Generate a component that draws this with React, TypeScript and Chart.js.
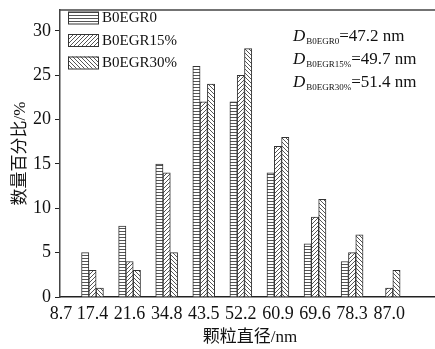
import { useEffect, useRef } from 'react';
import { Chart, registerables } from 'chart.js';

Chart.register(...registerables);

// ---- data ----
const xTickLabels = ['8.7', '17.4', '21.6', '34.8', '43.5', '52.2', '60.9', '69.6', '78.3', '87.0'];
const groupLabels = ['17.4', '21.6', '34.8', '43.5', '52.2', '60.9', '69.6', '78.3', '87.0'];
const seriesNames = ['B0EGR0', 'B0EGR15%', 'B0EGR30%'];
const b0egr0 = [5, 8, 15, 26, 22, 14, 6, 4, 0];
const b0egr15 = [3, 4, 14, 22, 25, 17, 9, 5, 1];
const b0egr30 = [1, 3, 5, 24, 28, 18, 11, 7, 3];
const meanDiameters = [47.2, 49.7, 51.4];
const yTickValues = [0, 5, 10, 15, 20, 25, 30];

const seriesValues = [b0egr0, b0egr15, b0egr30];
// position of the first (empty) tick label, others sit under groups 1..9
const firstTickPos = 0.15;
const tickPositions = [firstTickPos, ...groupLabels.map((_, i) => i + 1)];

const SERIF = "'Liberation Serif', 'Times New Roman', serif";
const TITLE_FONT = "'Liberation Serif', 'Noto Sans CJK SC', serif";

function makePattern(ctx: CanvasRenderingContext2D, kind: string): CanvasPattern {
  const c = document.createElement('canvas');
  const w = 4;
  const h = kind === 'h' ? 3 : 4;
  c.width = w;
  c.height = h;
  const g = c.getContext('2d')!;
  g.fillStyle = '#ffffff';
  g.fillRect(0, 0, w, h);
  g.strokeStyle = '#555555';
  g.lineWidth = 1;
  g.beginPath();
  if (kind === 'h') {
    g.moveTo(0, 0.5);
    g.lineTo(w, 0.5);
  } else if (kind === 'f') {
    g.moveTo(0, 4);
    g.lineTo(4, 0);
    g.moveTo(-1, 1);
    g.lineTo(1, -1);
    g.moveTo(3, 5);
    g.lineTo(5, 3);
  } else {
    g.moveTo(0, 0);
    g.lineTo(4, 4);
    g.moveTo(-1, 3);
    g.lineTo(1, 5);
    g.moveTo(3, -1);
    g.lineTo(5, 1);
  }
  g.stroke();
  return ctx.createPattern(c, 'repeat')!;
}

export default function App() {
  const ref = useRef<HTMLCanvasElement>(null);

  useEffect(() => {
    const canvas = ref.current!;
    const ctx = canvas.getContext('2d')!;
    const pats = [makePattern(ctx, 'h'), makePattern(ctx, 'f'), makePattern(ctx, 'b')];

    const framePlugin = {
      id: 'frame',
      afterDraw(chart: any) {
        const { ctx: c, chartArea } = chart;
        c.save();
        c.strokeStyle = '#444';
        c.lineWidth = 1.5;
        c.beginPath();
        c.moveTo(chartArea.left, chartArea.top);
        c.lineTo(chartArea.right, chartArea.top);
        c.stroke();
        c.restore();
      },
    };

    const legendPlugin = {
      id: 'insideLegend',
      afterDraw(chart: any) {
        const c = chart.ctx;
        const left = chart.chartArea.left + 8;
        const top0 = chart.chartArea.top + 7.5;
        const rowGap = 22.5;
        c.save();
        seriesNames.forEach((name, k) => {
          const cy = top0 + k * rowGap;
          c.fillStyle = pats[k];
          c.fillRect(left, cy - 6, 30, 12);
          c.strokeStyle = '#333';
          c.lineWidth = 1;
          c.strokeRect(left + 0.5, cy - 6 + 0.5, 30, 12);
          c.fillStyle = '#111';
          c.font = `15px ${SERIF}`;
          c.textBaseline = 'middle';
          c.textAlign = 'left';
          c.fillText(name, left + 34, cy + 1);
        });
        c.restore();
      },
    };

    const annoPlugin = {
      id: 'meanAnno',
      afterDraw(chart: any) {
        const c = chart.ctx;
        const x0 = 293;
        const base0 = chart.chartArea.top + 31;
        const gap = 23;
        c.save();
        c.fillStyle = '#111';
        c.textBaseline = 'alphabetic';
        c.textAlign = 'left';
        seriesNames.forEach((name, k) => {
          const by = base0 + k * gap;
          let x = x0;
          c.font = `italic 17px ${SERIF}`;
          c.fillText('D', x, by);
          x += c.measureText('D').width + 1;
          c.font = `9px ${SERIF}`;
          c.fillText(name, x, by + 3);
          x += c.measureText(name).width;
          c.font = `17px ${SERIF}`;
          c.fillText('=' + meanDiameters[k].toFixed(1) + ' nm', x, by);
        });
        c.restore();
      },
    };

    const chart = new Chart(canvas, {
      type: 'bar',
      data: {
        datasets: seriesNames.map((name, k) => ({
          label: name,
          data: seriesValues[k].map((v, i) => ({ x: i + 1, y: v })),
          backgroundColor: pats[k],
          borderColor: '#333',
          borderWidth: 1,
          barThickness: 7.3,
          borderSkipped: 'start',
        })),
      } as any,
      options: {
        responsive: false,
        animation: false,
        devicePixelRatio: 1,
        layout: { padding: { top: 10, right: 5, left: 0, bottom: 0 } },
        plugins: { legend: { display: false }, tooltip: { enabled: false } },
        scales: {
          x: {
            type: 'linear',
            min: 0.124,
            max: 10.37,
            offset: false,
            grid: { display: false, drawTicks: false, offset: false },
            border: { display: true, color: '#222', width: 1.5 },
            afterBuildTicks: (s: any) => {
              s.ticks = tickPositions.map((v) => ({ value: v }));
            },
            afterFit: (s: any) => {
              s.height = 52;
              s.paddingLeft = 0;
              s.paddingRight = 0;
            },
            ticks: {
              autoSkip: false,
              maxRotation: 0,
              padding: 6,
              color: '#111',
              font: { family: SERIF, size: 18 },
              callback: (_v: any, i: number) => xTickLabels[i],
            },
            title: {
              display: true,
              text: '颗粒直径/nm',
              color: '#111',
              font: { family: TITLE_FONT, size: 17 },
              padding: { top: 0, bottom: 1 },
            },
          },
          y: {
            min: 0,
            max: 32.36,
            grid: { display: true, drawOnChartArea: false, drawTicks: true, tickLength: 5, color: '#222' },
            border: { display: true, color: '#444', width: 1.5 },
            afterBuildTicks: (s: any) => {
              s.ticks = yTickValues.map((v) => ({ value: v }));
            },
            afterFit: (s: any) => {
              s.width = 60;
              s.paddingTop = 0;
              s.paddingBottom = 0;
            },
            ticks: {
              padding: 4,
              color: '#111',
              font: { family: SERIF, size: 18 },
              callback: (v: any) => String(v),
            },
            title: {
              display: true,
              text: '数量百分比/%',
              color: '#111',
              font: { family: TITLE_FONT, size: 17 },
              padding: { top: 10, bottom: 0 },
            },
          },
        },
      } as any,
      plugins: [framePlugin, legendPlugin, annoPlugin],
    });
    return () => chart.destroy();
  }, []);

  return (
    <div style={{ position: 'fixed', left: 0, top: 0, width: 435, height: 349, overflow: 'hidden', background: '#fff' }}>
      <canvas ref={ref} width={445} height={349} style={{ display: 'block', width: 445, height: 349 }} />
    </div>
  );
}
